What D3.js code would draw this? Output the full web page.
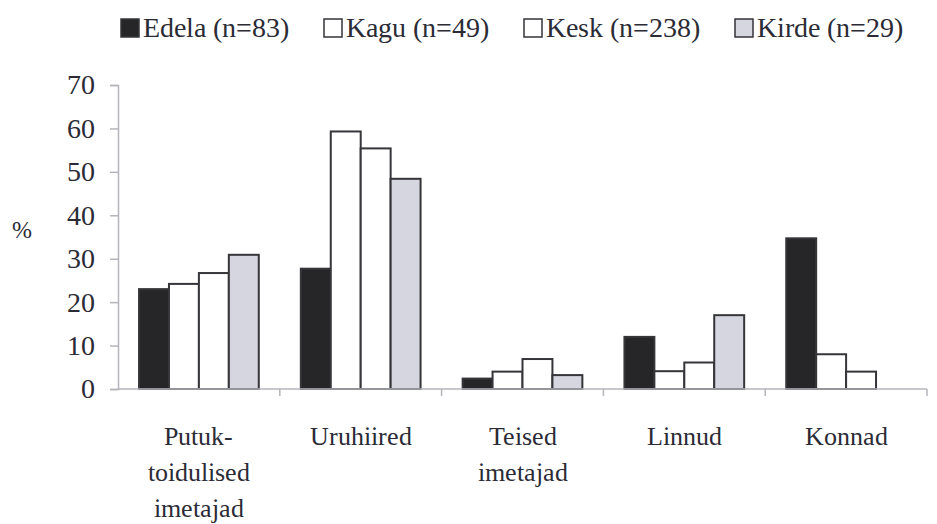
<!DOCTYPE html>
<html>
<head>
<meta charset="utf-8">
<script src="https://cdn.jsdelivr.net/npm/d3@7"></script>
</head>
<body>
<svg id="chart" width="937" height="524"></svg>
<script>
// ---- data ----
const categories = ["Putuk-toidulised imetajad", "Uruhiired", "Teised imetajad", "Linnud", "Konnad"];
const categoryLines = [["Putuk-", "toidulised", "imetajad"], ["Uruhiired"], ["Teised", "imetajad"], ["Linnud"], ["Konnad"]];
const seriesNames = ["Edela", "Kagu", "Kesk", "Kirde"];
const seriesLabels = ["Edela (n=83)", "Kagu (n=49)", "Kesk (n=238)", "Kirde (n=29)"];
const edela = [23.0, 27.7, 2.4, 12.0, 34.7];
const kagu  = [24.2, 59.3, 4.0, 4.1, 8.0];
const kesk  = [26.7, 55.4, 6.9, 6.1, 4.0];
const kirde = [30.9, 48.4, 3.2, 17.0, 0];
const yTicks = [0, 10, 20, 30, 40, 50, 60, 70];
const yLabel = "%";

const seriesValues = [edela, kagu, kesk, kirde];
const seriesFill = ["#262628", "#ffffff", "#ffffff", "#d6d6e0"];

// ---- fonts ----
const st = document.createElement("style");
st.textContent = '@font-face { font-family: "ChartSerif"; src: local("Liberation Serif"), local("LiberationSerif"), local("LiberationSerif-Regular"), local("Tinos"); }';
document.head.appendChild(st);
const FONT = '"ChartSerif", "Liberation Serif", Tinos, monospace';
const TXT = "#2b2b36";

// ---- layout ----
document.body.style.margin = "0";
const svg = d3.select("#chart").style("display", "block");
const mLeft = 118, mRight = 927, mTop = 85, mBottom = 389;

const x0 = d3.scaleBand().domain(categories).range([mLeft, mRight])
  .paddingInner(0.26).paddingOuter(0.13);
const x1 = d3.scaleBand().domain(seriesNames).range([0, x0.bandwidth()]).padding(0);
const y = d3.scaleLinear().domain([0, 70]).range([mBottom, mTop]);

// y axis
const yAxis = svg.append("g").attr("transform", `translate(${mLeft},0)`)
  .call(d3.axisLeft(y).tickValues(yTicks).tickSize(8).tickPadding(15));
yAxis.attr("font-family", null).attr("font-size", null);
yAxis.select(".domain").attr("stroke", "#b4b4bc").attr("stroke-width", 1.5);
yAxis.selectAll(".tick line").attr("stroke", "#b4b4bc").attr("stroke-width", 1.5);
yAxis.selectAll(".tick text").attr("font-size", 28)
  .style("font-family", FONT).attr("fill", TXT);

// bars
const data = [];
categories.forEach((c, i) => seriesNames.forEach((s, j) => {
  if (seriesValues[j][i] > 0) data.push({ c, s, v: seriesValues[j][i], fill: seriesFill[j] });
}));
svg.append("g").selectAll("rect").data(data).join("rect")
  .attr("x", d => x0(d.c) + x1(d.s))
  .attr("y", d => y(d.v))
  .attr("width", x1.bandwidth())
  .attr("height", d => y(0) - y(d.v))
  .attr("fill", d => d.fill)
  .attr("stroke", "#35353a")
  .attr("stroke-width", 2);

// x axis
const xg = svg.append("g");
xg.append("line").attr("x1", mLeft).attr("x2", mRight).attr("y1", mBottom).attr("y2", mBottom)
  .attr("stroke", "#b4b4bc").attr("stroke-width", 1.5);
const bounds = categories.map(c => x0(c) - x0.step() * x0.paddingInner() / 2);
bounds.push(mRight);
xg.selectAll(".xt").data(bounds.slice(1)).join("line")
  .attr("x1", d => d).attr("x2", d => d).attr("y1", mBottom).attr("y2", mBottom + 7)
  .attr("stroke", "#b4b4bc").attr("stroke-width", 1.5);

// category labels
categories.forEach((c, i) => {
  const cx = x0(c) + x0.bandwidth() / 2;
  categoryLines[i].forEach((ln, k) => {
    svg.append("text").attr("text-anchor", "middle")
      .attr("x", cx).attr("y", 445 + 36 * k)
      .attr("font-size", 26).style("font-family", FONT).attr("fill", TXT).text(ln);
  });
});

// y label
svg.append("text").attr("x", 22).attr("y", 238).attr("text-anchor", "middle")
  .attr("font-size", 24).style("font-family", FONT).attr("fill", TXT).text(yLabel);

// legend
const legend = svg.append("g");
const items = seriesLabels.map((lab, j) => {
  const r = legend.append("rect").attr("y", 19).attr("width", 18).attr("height", 18)
    .attr("fill", seriesFill[j]).attr("stroke", "#35353a").attr("stroke-width", 1.5);
  const t = legend.append("text").attr("y", 37)
    .attr("font-size", 28).style("font-family", FONT).attr("fill", TXT).text(lab);
  return { r, t };
});
function layoutLegend() {
  let lx = 120;
  items.forEach(({ r, t }) => {
    r.attr("x", lx + 1);
    t.attr("x", lx + 23);
    lx = lx + 23 + t.node().getComputedTextLength() + 34;
  });
}
layoutLegend();
if (document.fonts && document.fonts.ready) document.fonts.ready.then(layoutLegend);
</script>
</body>
</html>
